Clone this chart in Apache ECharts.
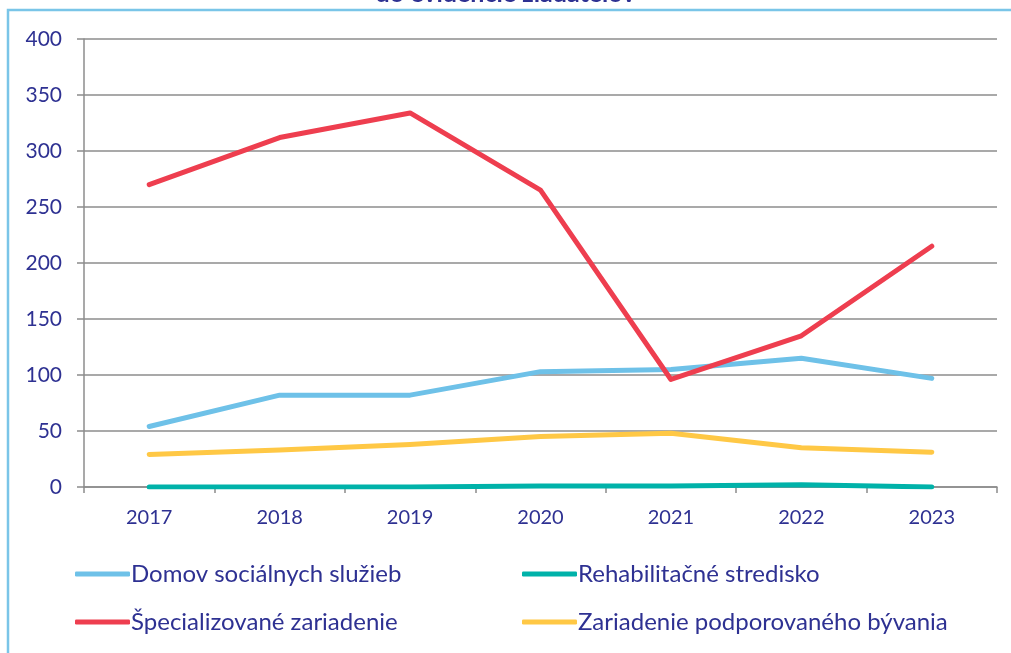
<!DOCTYPE html>
<html><head><meta charset="utf-8">
<script src="https://cdn.jsdelivr.net/npm/echarts@6/dist/echarts.min.js"></script>
<style>html,body{margin:0;padding:0;background:#fff}#c{width:1011px;height:653px}</style>
</head><body><div id="c"></div>
<script>
const titleText = 'do evidencie žiadateľov';
const years = ['2017','2018','2019','2020','2021','2022','2023'];
const yTicks = [0,50,100,150,200,250,300,350,400];
const domov = [54, 82, 82, 103, 105, 115, 97];
const rehab = [0, 0, 0, 1, 1, 2, 0];
const special = [270, 312, 334, 265, 96, 135, 215];
const zpb = [29, 33, 38, 45, 48, 35, 31];
const names = ['Domov sociálnych služieb','Rehabilitačné stredisko','Špecializované zariadenie','Zariadenie podporovaného bývania'];
const colors = ['#6EC1E8','#00B2A9','#EE3E4F','#FFC845'];
const dataSets = [domov, rehab, special, zpb];

const font = 'Lato, "Open Sans", sans-serif';
const textColor = '#2E3192';
const chart = echarts.init(document.getElementById('c'), null, {renderer:'canvas'});
chart.setOption({
  animation:false,
  backgroundColor:'#fff',
  graphic:[
    {type:'rect', shape:{x:8,y:10,width:1020,height:660}, style:{fill:'none', stroke:'#7AC5E8', lineWidth:2.5}, z:-1},
    {type:'text', left:'center', top:-19, style:{text:titleText, font:'bold 25px '+font, fill:textColor}}
  ],
  grid:{left:84, right:14, top:39, bottom:166},
  legend:[
    {data:[names[0],names[2]], orient:'vertical', left:70, top:557, itemWidth:55, itemHeight:5, itemGap:24, icon:'roundRect',
     textStyle:{fontFamily:font, fontSize:24, color:textColor, padding:[0,0,0,-4]}},
    {data:[names[1],names[3]], orient:'vertical', left:517, top:557, itemWidth:55, itemHeight:5, itemGap:24, icon:'roundRect',
     textStyle:{fontFamily:font, fontSize:24, color:textColor, padding:[0,0,0,-4]}}
  ],
  xAxis:{type:'category', data:years, boundaryGap:true,
    axisLine:{lineStyle:{color:'#8C8C8C', width:1.5}},
    axisTick:{show:true, length:6, alignWithLabel:false, lineStyle:{color:'#8C8C8C', width:1.5}},
    axisLabel:{fontFamily:font, fontSize:20, color:textColor, margin:21}},
  yAxis:{type:'value', min:0, max:400, interval:50,
    axisLine:{show:true, lineStyle:{color:'#8C8C8C', width:1.5}},
    axisTick:{show:true, length:7, lineStyle:{color:'#8C8C8C', width:1.5}},
    splitLine:{lineStyle:{color:'#8C8C8C', width:1.5}},
    axisLabel:{fontFamily:font, fontSize:21, color:textColor, margin:22,
      formatter: v => yTicks.includes(v) ? String(v) : ''}},
  series: dataSets.map((d,i)=>({
    name:names[i], type:'line', data:d, symbol:'none', smooth:false,
    lineStyle:{color:colors[i], width:5, cap:'round', join:'round'},
    itemStyle:{color:colors[i]}
  }))
});
</script></body></html>
